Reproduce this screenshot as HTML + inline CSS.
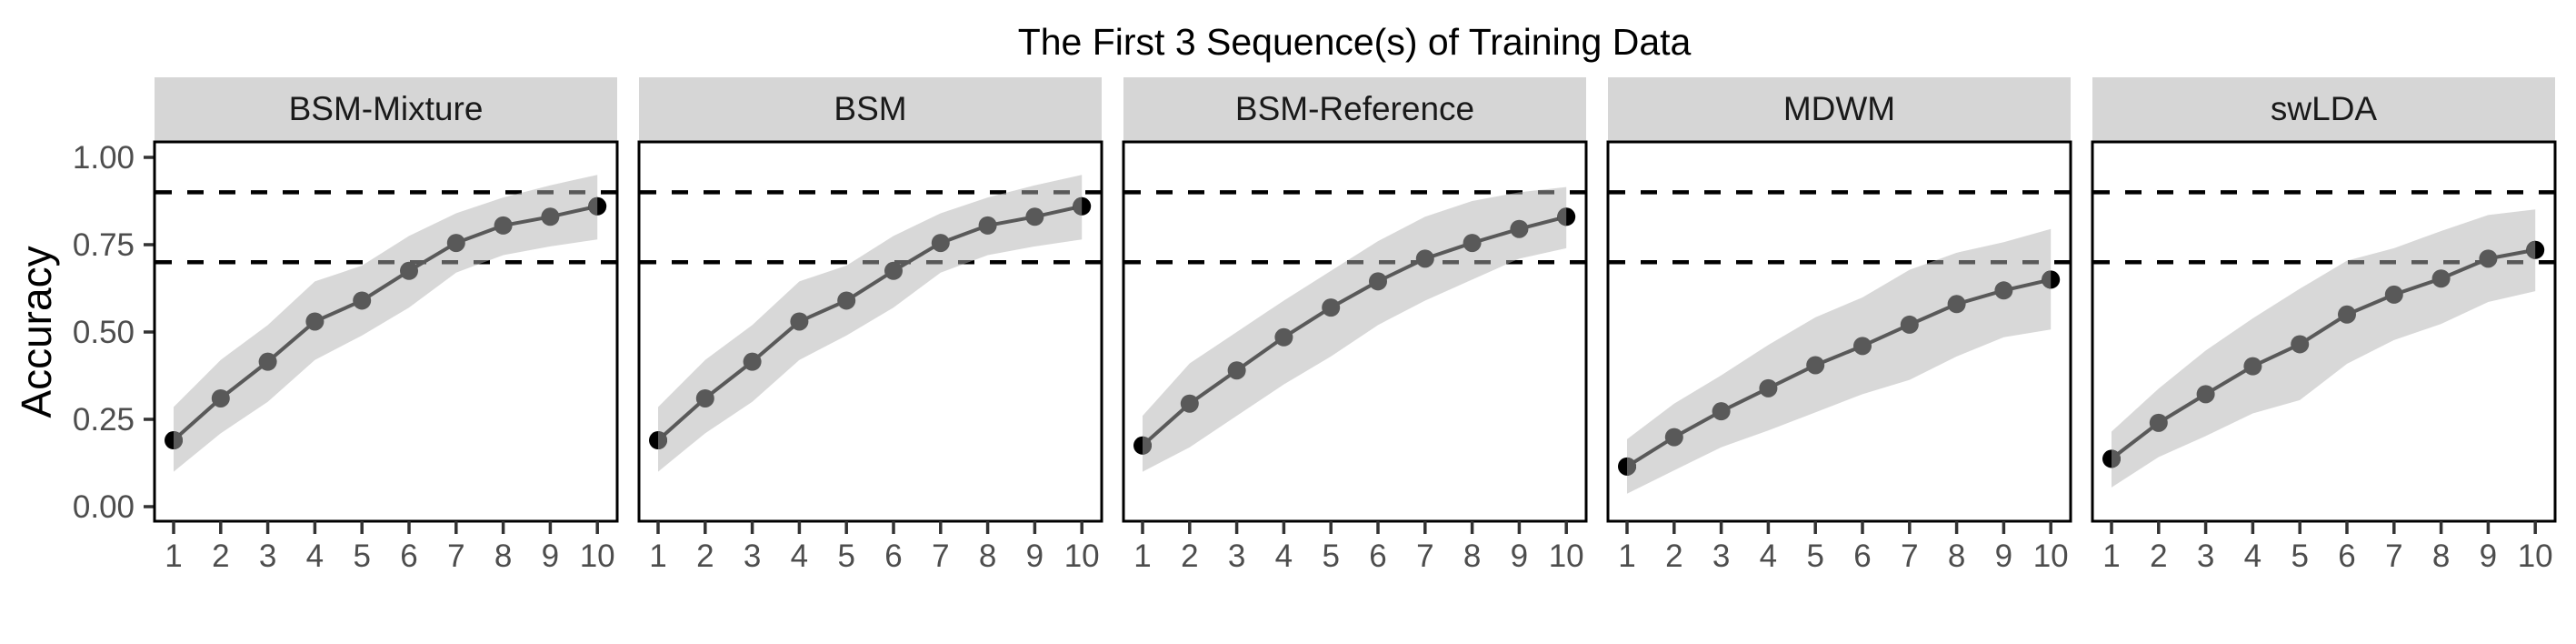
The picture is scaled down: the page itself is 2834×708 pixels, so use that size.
<!DOCTYPE html>
<html><head><meta charset="utf-8">
<style>
html,body{margin:0;padding:0;background:#fff;}
svg{display:block;font-family:"Liberation Sans",Arial,sans-serif;}
</style></head>
<body>
<svg id="chart" width="2834" height="708" viewBox="0 0 2834 708" xmlns="http://www.w3.org/2000/svg">
<text x="1490" y="60" font-size="41" text-anchor="middle" fill="#000">The First 3 Sequence(s) of Training Data</text>
<text transform="translate(56,365) rotate(-90)" font-size="46" text-anchor="middle" fill="#000">Accuracy</text>
</svg>
<script>
const panels = ["BSM-Mixture","BSM","BSM-Reference","MDWM","swLDA"];
const xCats = [1,2,3,4,5,6,7,8,9,10];
const yTicks = [0,0.25,0.5,0.75,1];
const yTickLabels = ["0.00","0.25","0.50","0.75","1.00"];
const refLines = [0.9,0.7];
const meanBSMMix = [0.19,0.31,0.415,0.53,0.59,0.675,0.755,0.805,0.83,0.86];
const lowBSMMix  = [0.10,0.21,0.30,0.42,0.49,0.57,0.67,0.72,0.745,0.765];
const upBSMMix   = [0.285,0.42,0.52,0.645,0.69,0.775,0.84,0.885,0.92,0.95];
const meanBSM = [0.19,0.31,0.415,0.53,0.59,0.675,0.755,0.805,0.83,0.86];
const lowBSM  = [0.10,0.21,0.30,0.42,0.49,0.57,0.67,0.72,0.745,0.765];
const upBSM   = [0.285,0.42,0.52,0.645,0.69,0.775,0.84,0.885,0.92,0.95];
const meanRef = [0.175,0.295,0.39,0.485,0.57,0.645,0.71,0.755,0.795,0.83];
const lowRef  = [0.10,0.17,0.26,0.35,0.43,0.52,0.59,0.65,0.71,0.74];
const upRef   = [0.26,0.41,0.50,0.59,0.675,0.76,0.83,0.875,0.9,0.915];
const meanMDWM = [0.115,0.199,0.273,0.339,0.405,0.46,0.521,0.58,0.619,0.65];
const lowMDWM  = [0.037,0.104,0.17,0.218,0.27,0.322,0.363,0.43,0.485,0.507];
const upMDWM   = [0.193,0.295,0.376,0.463,0.542,0.599,0.678,0.727,0.757,0.795];
const meanLDA = [0.137,0.24,0.322,0.402,0.465,0.55,0.607,0.653,0.71,0.735];
const lowLDA  = [0.055,0.142,0.202,0.267,0.305,0.409,0.477,0.523,0.586,0.617];
const upLDA   = [0.215,0.338,0.447,0.539,0.624,0.704,0.74,0.789,0.835,0.851];
const means = [meanBSMMix,meanBSM,meanRef,meanMDWM,meanLDA];
const lows = [lowBSMMix,lowBSM,lowRef,lowMDWM,lowLDA];
const ups = [upBSMMix,upBSM,upRef,upMDWM,upLDA];

const NS="http://www.w3.org/2000/svg";
const svg=document.getElementById('chart');
function mk(tag,attrs,parent){const e=document.createElementNS(NS,tag);for(const k in attrs)e.setAttribute(k,attrs[k]);(parent||svg).appendChild(e);return e;}
const PT=156,PB=573,PW=509,STRIP_T=85;
function yScale(v){return 557-384*v;}
function panelLeft(i){return 170+533*i;}
function xScale(i,k){return panelLeft(i)+21+(k-1)*51.8;}

yTicks.forEach((t,j)=>{
  const y=yScale(t);
  const tk=mk('line',{x1:158,x2:170,y1:y,y2:y,stroke:'#333','stroke-width':3.5});
  
  
  const tx=mk('text',{x:148,y:y+12,'font-size':35,'text-anchor':'end',fill:'#4d4d4d'});
  tx.textContent=yTickLabels[j];
  
  
});

panels.forEach((name,i)=>{
  const L=panelLeft(i);
  const g=mk('g',{});
  
  
  const st=mk('rect',{x:L,y:STRIP_T,width:PW,height:PT-STRIP_T,fill:'#d6d6d6'},g);
  
  
  const stt=mk('text',{x:L+PW/2,y:132,'font-size':37,'text-anchor':'middle',fill:'#1a1a1a'},g);
  stt.textContent=name;
  
  
  const cid='clip'+i;
  const cp=mk('clipPath',{id:cid},g);
  mk('rect',{x:L,y:PT,width:PW,height:PB-PT},cp);
  const inner=mk('g',{'clip-path':'url(#'+cid+')'},g);
  refLines.forEach(v=>{
    const l=mk('line',{x1:L,x2:L+PW,y1:yScale(v),y2:yScale(v),stroke:'#000','stroke-width':4.5,'stroke-dasharray':'18 17','stroke-dashoffset':'-1'},inner);
    
    
  });
  let d='';
  xCats.forEach((k,j)=>{d+=(j?'L':'M')+xScale(i,k)+','+yScale(ups[i][j]);});
  for(let j=xCats.length-1;j>=0;j--){d+='L'+xScale(i,xCats[j])+','+yScale(lows[i][j]);}
  const band=mk('path',{d:d+'Z',fill:'#b2b2b2','fill-opacity':0.5},inner);
  
  
  const pts=xCats.map((k,j)=>xScale(i,k)+','+yScale(means[i][j])).join(' ');
  const ln=mk('polyline',{points:pts,fill:'none',stroke:'#595959','stroke-width':4},inner);
  
  
  xCats.forEach((k,j)=>{
    const cx=xScale(i,k),cy=yScale(means[i][j]);
    const last=j===xCats.length-1, first=j===0;
    if(first||last){
      const b=mk('circle',{cx:cx,cy:cy,r:10,fill:'#000'},g);
      
      
      const hp=mk('path',{d: first?`M${cx},${cy-10}A10,10 0 0 1 ${cx},${cy+10}Z`:`M${cx},${cy-10}A10,10 0 0 0 ${cx},${cy+10}Z`,fill:'#595959'},g);
      
      
    } else {
      const c=mk('circle',{cx:cx,cy:cy,r:10,fill:'#595959'},g);
      
      
    }
  });
  const fr=mk('rect',{x:L,y:PT,width:PW,height:PB-PT,fill:'none',stroke:'#000','stroke-width':3},g);
  
  
  xCats.forEach(k=>{
    const x=xScale(i,k);
    const t=mk('line',{x1:x,x2:x,y1:PB,y2:PB+14,stroke:'#333','stroke-width':3.5},g);
    
    
    const tl=mk('text',{x:x,y:623,'font-size':35,'text-anchor':'middle',fill:'#4d4d4d'},g);
    tl.textContent=k;
    
    
  });
});
</script>
</body></html>
